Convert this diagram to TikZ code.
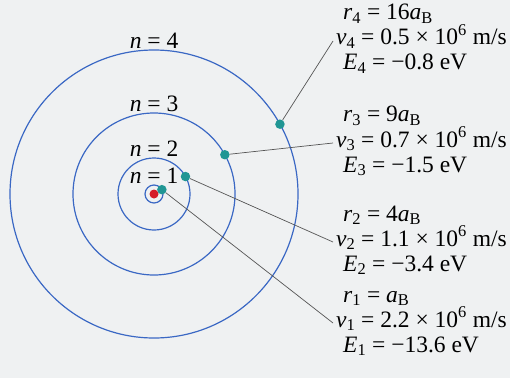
\documentclass[tikz,border=0pt]{standalone}
\usepackage{fontspec}
\setmainfont{Liberation Serif}
\usetikzlibrary{calc}
\definecolor{orbitblue}{RGB}{58,104,196}
\definecolor{electron}{RGB}{32,150,148}
\definecolor{proton}{RGB}{214,28,40}
\definecolor{leadgray}{RGB}{85,85,85}
\definecolor{paper}{RGB}{239,241,242}
\newcommand{\lo}[1]{\textsubscript{#1}}
\newcommand{\hi}[1]{\textsuperscript{#1}}
\tikzset{
  orbit/.style={draw=orbitblue, line width=1.2pt},
  elec/.style={circle, fill=electron, inner sep=0pt, minimum size=9.5pt},
  nucleus/.style={circle, fill=proton, inner sep=0pt, minimum size=9pt},
  nlab/.style={anchor=south, inner sep=1.5pt, font=\fontsize{23.5}{26}\selectfont},
  data/.style={anchor=base west, inner sep=0pt, font=\fontsize{23.5}{26}\selectfont},
  leader/.style={draw=leadgray, line width=0.7pt},
}
\begin{document}
\begin{tikzpicture}[x=1pt,y=1pt]
  \fill[paper] (0,0) rectangle (510,378);
  % orbits, n labels and electrons
  \node[nucleus] (nuc) at (154,184) {};
  \foreach \n/\r in {4/144,3/81,2/36,1/9} {
    \draw[orbit] (nuc.center) circle (\r);
    \node[nlab] (n\n) at ($(nuc.center)+(0,\r)$) {\textit{n} = \n};
    \node[elec] (e\n) at ($(nuc.center)+(29:\r)$) {};
  }
  % values for each orbit
  \node[data] (r4) at (343,358) {\textit{r}\lo{4} = 16\textit{a}\lo{B}};
  \node[data] (v4) at (336,333) {\textit{v}\lo{4} = 0.5 × 10\hi{6} m/s};
  \node[data] (E4) at (343,308) {\textit{E}\lo{4} = −0.8 eV};
  \node[data] (r3) at (343,256) {\textit{r}\lo{3} = 9\textit{a}\lo{B}};
  \node[data] (v3) at (336,231) {\textit{v}\lo{3} = 0.7 × 10\hi{6} m/s};
  \node[data] (E3) at (343,206) {\textit{E}\lo{3} = −1.5 eV};
  \node[data] (r2) at (343,157) {\textit{r}\lo{2} = 4\textit{a}\lo{B}};
  \node[data] (v2) at (336,132) {\textit{v}\lo{2} = 1.1 × 10\hi{6} m/s};
  \node[data] (E2) at (343,107) {\textit{E}\lo{2} = −3.4 eV};
  \node[data] (r1) at (343,76) {\textit{r}\lo{1} = \textit{a}\lo{B}};
  \node[data] (v1) at (336,51) {\textit{v}\lo{1} = 2.2 × 10\hi{6} m/s};
  \node[data] (E1) at (343,26) {\textit{E}\lo{1} = −13.6 eV};
  \foreach \n in {1,...,4}
    \draw[leader] (e\n) -- ([shift={(-3pt,4pt)}]v\n.base west);
\end{tikzpicture}
\end{document}
